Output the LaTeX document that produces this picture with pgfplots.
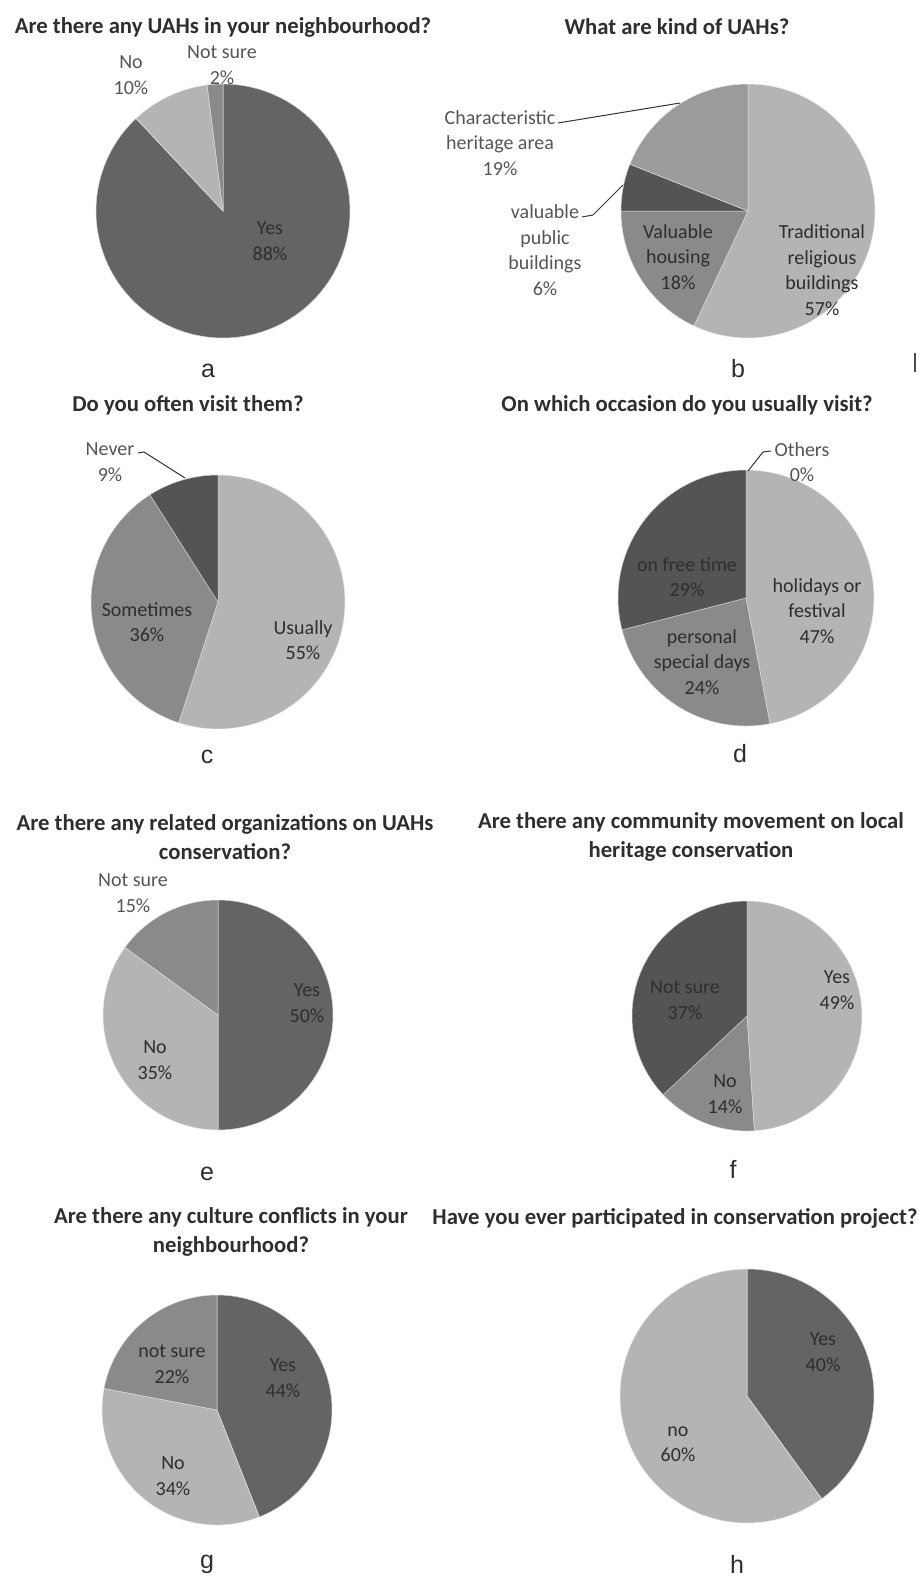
\documentclass[border=0pt]{standalone}
\usepackage{pgfplots}
\pgfplotsset{compat=1.18}
\usepackage{fontspec}
\setmainfont{Carlito}
\newfontfamily\arialf{Liberation Sans}
\definecolor{gA}{HTML}{646464}
\definecolor{gB}{HTML}{B4B4B4}
\definecolor{gC}{HTML}{8A8A8A}
\definecolor{gD}{HTML}{545454}
\definecolor{gE}{HTML}{9B9B9B}
\definecolor{txt}{HTML}{2E2E2E}
\definecolor{otxt}{HTML}{555555}
% one pie slice: centre x, centre y, radius, from %, to % (cumulative), colour
\newcommand{\slice}[6]{%
  \pgfmathsetmacro\sa{#4*3.6}\pgfmathsetmacro\sb{#5*3.6}%
  \addplot[fill=#6, draw=white!70!#6, line width=0.5pt, domain=\sa:\sb, samples=120, variable=\t]
    ({#1+#3*sin(\t)},{#2-#3*cos(\t)}) -- (axis cs:#1,#2) -- cycle;}
\tikzset{
  ttl/.style={font=\fontsize{22.7}{29}\selectfont\bfseries, text=txt, align=center},
  lbl/.style={font=\fontsize{20}{25.5}\selectfont, text=txt, align=center},
  olbl/.style={font=\fontsize{20}{25.5}\selectfont, text=otxt, align=center},
  let/.style={font=\arialf\fontsize{25}{25}\selectfont, text=txt, anchor=base},
  lead/.style={draw=black!80, line width=1pt}
}
\begin{document}
\begin{tikzpicture}
\begin{axis}[x=1pt, y=1pt, xmin=0, xmax=920, ymin=0, ymax=1582, y dir=reverse,
  hide axis, clip=false, scale only axis]
\path (axis cs:0,0) rectangle (axis cs:920,1582);
% ---------- a ----------
\slice{223}{211}{127}{0}{88}{gA}
\slice{223}{211}{127}{88}{98}{gB}
\slice{223}{211}{127}{98}{100}{gC}
\node[ttl] at (axis cs:223,27) {Are there any UAHs in your neighbourhood?};
\node[lbl] at (axis cs:270,241) {Yes\\88\%};
\node[olbl] at (axis cs:131,75) {No\\10\%};
\node[olbl] at (axis cs:222,65) {Not sure\\2\%};
\node[let] at (axis cs:208,377) {a};
% ---------- b ----------
\slice{748}{211}{127}{0}{57}{gB}
\slice{748}{211}{127}{57}{75}{gC}
\slice{748}{211}{127}{75}{81}{gD}
\slice{748}{211}{127}{81}{100}{gE}
\node[ttl] at (axis cs:677,27) {What are kind of UAHs?};
\node[lbl] at (axis cs:822,270) {Traditional\\religious\\buildings\\57\%};
\node[lbl] at (axis cs:678,257) {Valuable\\housing\\18\%};
\node[olbl] at (axis cs:545,250) {valuable\\public\\buildings\\6\%};
\node[olbl] at (axis cs:500,143) {Characteristic\\heritage area\\19\%};
\draw[lead] (axis cs:558,123) -- (axis cs:680,103);
\draw[lead] (axis cs:582,217) -- (axis cs:593,215) -- (axis cs:623,185);
\node[let] at (axis cs:738,377) {b};
\draw[line width=2pt, black!70] (axis cs:915,353) -- (axis cs:915,372);
% ---------- c ----------
\slice{218}{602}{127}{0}{55}{gB}
\slice{218}{602}{127}{55}{91}{gC}
\slice{218}{602}{127}{91}{100}{gD}
\node[ttl] at (axis cs:188,405) {Do you often visit them?};
\node[lbl] at (axis cs:303,640) {Usually\\55\%};
\node[lbl] at (axis cs:147,622) {Sometimes\\36\%};
\node[olbl] at (axis cs:110,462) {Never\\9\%};
\draw[lead] (axis cs:138,453) -- (axis cs:144,452) -- (axis cs:185,478);
\node[let] at (axis cs:207,763) {c};
% ---------- d ----------
\slice{746}{598}{128}{0}{47}{gB}
\slice{746}{598}{128}{47}{71}{gC}
\slice{746}{598}{128}{71}{100}{gD}
\node[ttl] at (axis cs:687,405) {On which occasion do you usually visit?};
\node[lbl] at (axis cs:817,611) {holidays or\\festival\\47\%};
\node[lbl] at (axis cs:702,662) {personal\\special days\\24\%};
\node[lbl] at (axis cs:687,577) {on free time\\29\%};
\node[olbl] at (axis cs:802,462) {Others\\0\%};
\draw[lead] (axis cs:771,451) -- (axis cs:763,452) -- (axis cs:748,471);
\node[let] at (axis cs:740,762) {d};
% ---------- e ----------
\slice{218}{1015}{115}{0}{50}{gA}
\slice{218}{1015}{115}{50}{85}{gB}
\slice{218}{1015}{115}{85}{100}{gC}
\node[ttl] at (axis cs:225,837) {Are there any related organizations on UAHs\\conservation?};
\node[lbl] at (axis cs:307,1003) {Yes\\50\%};
\node[lbl] at (axis cs:155,1060) {No\\35\%};
\node[olbl] at (axis cs:133,893) {Not sure\\15\%};
\node[let] at (axis cs:207,1180) {e};
% ---------- f ----------
\slice{747}{1016}{115}{0}{49}{gB}
\slice{747}{1016}{115}{49}{63}{gC}
\slice{747}{1016}{115}{63}{100}{gD}
\node[ttl] at (axis cs:691,837) {Are there any community movement on local\\heritage conservation};
\node[lbl] at (axis cs:837,990) {Yes\\49\%};
\node[lbl] at (axis cs:725,1094) {No\\14\%};
\node[lbl] at (axis cs:685,1000) {Not sure\\37\%};
\node[let] at (axis cs:733,1178) {f};
% ---------- g ----------
\slice{217}{1410}{115}{0}{44}{gA}
\slice{217}{1410}{115}{44}{78}{gB}
\slice{217}{1410}{115}{78}{100}{gC}
\node[ttl] at (axis cs:231,1232) {Are there any culture conflicts in your\\neighbourhood?};
\node[lbl] at (axis cs:283,1378) {Yes\\44\%};
\node[lbl] at (axis cs:173,1476) {No\\34\%};
\node[lbl] at (axis cs:172,1364) {not sure\\22\%};
\node[let] at (axis cs:207,1568) {g};
% ---------- h ----------
\slice{747}{1396}{127}{0}{40}{gA}
\slice{747}{1396}{127}{40}{100}{gB}
\node[ttl] at (axis cs:675,1218) {Have you ever participated in conservation project?};
\node[lbl] at (axis cs:823,1352) {Yes\\40\%};
\node[lbl] at (axis cs:678,1444) {no\\60\%};
\node[let] at (axis cs:737,1573) {h};
\end{axis}
\end{tikzpicture}
\end{document}
